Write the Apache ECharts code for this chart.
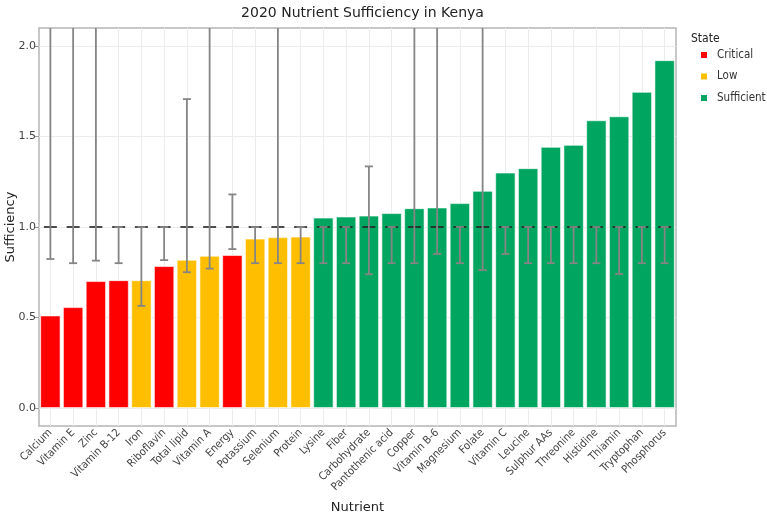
<!DOCTYPE html>
<html>
<head>
<meta charset="utf-8">
<script src="https://cdn.jsdelivr.net/npm/echarts@6/dist/echarts.min.js"></script>
<style>html,body{margin:0;padding:0;background:#fff}#c{width:767px;height:513px}</style>
</head>
<body>
<div id="c"></div>
<script>
const categories = ['Calcium','Vitamin E','Zinc','Vitamin B-12','Iron','Riboflavin','Total lipid','Vitamin A','Energy','Potassium','Selenium','Protein','Lysine','Fiber','Carbohydrate','Pantothenic acid','Copper','Vitamin B-6','Magnesium','Folate','Vitamin C','Leucine','Sulphur AAs','Threonine','Histidine','Thiamin','Tryptophan','Phosphorus'];
const values = [0.51,0.556,0.70,0.705,0.705,0.783,0.818,0.84,0.844,0.935,0.943,0.946,1.051,1.057,1.062,1.076,1.103,1.107,1.131,1.199,1.300,1.324,1.442,1.453,1.589,1.611,1.746,1.921];
const states = ['Critical','Critical','Critical','Critical','Low','Critical','Low','Low','Critical','Low','Low','Low','Sufficient','Sufficient','Sufficient','Sufficient','Sufficient','Sufficient','Sufficient','Sufficient','Sufficient','Sufficient','Sufficient','Sufficient','Sufficient','Sufficient','Sufficient','Sufficient'];
const errLow = [0.823,0.80,0.814,0.80,0.564,0.817,0.75,0.77,0.878,0.80,0.80,0.80,0.80,0.80,0.739,0.80,0.80,0.851,0.80,0.762,0.851,0.80,0.80,0.80,0.80,0.74,0.80,0.80];
const errHigh = [2.5,2.5,2.5,1,1,1,1.707,2.5,1.18,1,2.5,1,1,1,1.335,1,2.5,2.5,1,2.5,1,1,1,1,1,1,1,1];
const referenceLevel = [1,1,1,1,1,1,1,1,1,1,1,1,1,1,1,1,1,1,1,1,1,1,1,1,1,1,1,1];
const stateNames = ['Critical','Low','Sufficient'];
const stateColors = ['#ff0000','#ffbf00','#00a65f'];
const yTicks = [0,0.5,1,1.5,2];

const FONT = 'DejaVu Sans';
const FONTC = 'DejaVu Sans Condensed';
const chart = echarts.init(document.getElementById('c'), null, {renderer:'canvas'});

const barSeries = stateNames.map((s, k) => ({
  name: s,
  type: 'bar',
  barWidth: '88%',
  barGap: '-100%',
  itemStyle: {color: stateColors[k], borderColor: '#ffffff', borderWidth: 0.6},
  data: values.map((v, i) => states[i] === s ? v : null),
  z: 2
}));

const refSeries = {
  type: 'custom',
  name: 'ref',
  clip: true,
  z: 3,
  renderItem: function (params, api) {
    const p = api.coord([api.value(0), api.value(1)]);
    return {type: 'line', shape: {x1: p[0]-6.5, y1: p[1], x2: p[0]+6.5, y2: p[1]}, style: {stroke: '#222', lineWidth: 1.6}};
  },
  data: referenceLevel.map((v, i) => [i, v])
};

const errSeries = {
  type: 'custom',
  name: 'err',
  clip: true,
  z: 4,
  renderItem: function (params, api) {
    const lo = api.coord([api.value(0), api.value(1)]);
    const hi = api.coord([api.value(0), api.value(2)]);
    const w = 4;
    const st = {stroke: '#858585', lineWidth: 1.8};
    return {type: 'group', children: [
      {type: 'line', shape: {x1: lo[0], y1: lo[1], x2: hi[0], y2: hi[1]}, style: st},
      {type: 'line', shape: {x1: lo[0]-w, y1: lo[1], x2: lo[0]+w, y2: lo[1]}, style: st},
      {type: 'line', shape: {x1: hi[0]-w, y1: hi[1], x2: hi[0]+w, y2: hi[1]}, style: st}
    ]};
  },
  data: errLow.map((v, i) => [i, v, errHigh[i]])
};

chart.setOption({
  animation: false,
  backgroundColor: '#ffffff',
  textStyle: {fontFamily: FONT},
  title: {
    text: '2020 Nutrient Sufficiency in Kenya',
    left: 357.5, top: 1, textAlign: 'center',
    textStyle: {fontFamily: FONT, fontSize: 14, fontWeight: 'normal', color: '#222'}
  },
  graphic: [{type: 'text', left: 691, top: 33, style: {text: 'State', font: '12px "DejaVu Sans Condensed"', fill: '#222'}}],
  legend: {
    data: stateNames,
    orient: 'vertical',
    left: 699, top: 48,
    padding: 0,
    itemWidth: 8, itemHeight: 8, itemGap: 7.5,
    icon: 'rect',
    textStyle: {fontFamily: FONTC, fontSize: 11.5, color: '#333', lineHeight: 14, padding: [0,0,0,4]}
  },
  grid: {left: 39, right: 91, top: 28, bottom: 87, outerBoundsMode: 'none', containLabel: false, show: true, borderColor: '#b5b5b5', borderWidth: 1.5, backgroundColor: 'transparent'},
  xAxis: {
    type: 'category',
    data: categories,
    name: 'Nutrient',
    nameLocation: 'middle',
    nameGap: 75,
    nameMoveOverlap: false,
    nameTextStyle: {fontFamily: FONT, fontSize: 13, color: '#222'},
    axisLine: {show: false},
    axisTick: {show: false, alignWithLabel: true},
    axisLabel: {rotate: 45, fontSize: 11, color: '#444', margin: 5, interval: 0, fontFamily: FONTC},
    splitLine: {show: true, alignWithLabel: true, lineStyle: {color: '#ececec', width: 1}}
  },
  yAxis: {
    type: 'value',
    min: -0.1, max: 2.1,
    name: 'Sufficiency',
    nameLocation: 'middle',
    nameGap: 22,
    nameMoveOverlap: false,
    nameTextStyle: {fontFamily: FONT, fontSize: 13, color: '#222'},
    axisLine: {show: false},
    axisTick: {show: true, length: 4, customValues: yTicks, lineStyle: {color: '#999'}},
    axisLabel: {customValues: yTicks, fontSize: 11, color: '#444', margin: 3, fontFamily: FONT, formatter: v => v.toFixed(1)},
    splitLine: {show: true, lineStyle: {color: '#ececec', width: 1}}
  },
  series: [...barSeries, refSeries, errSeries]
});
</script>
</body>
</html>
